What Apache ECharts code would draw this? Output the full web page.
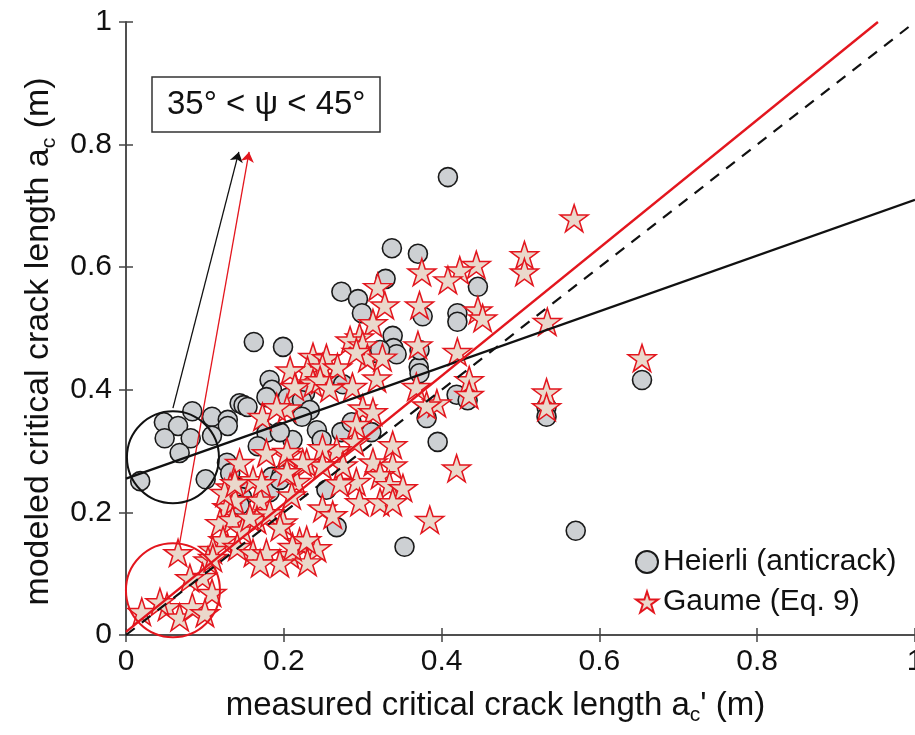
<!DOCTYPE html>
<html>
<head>
<meta charset="utf-8">
<script src="https://cdn.jsdelivr.net/npm/echarts@6/dist/echarts.min.js"></script>
<style>
  html, body { margin: 0; padding: 0; background: #fff; }
  #chart { width: 915px; height: 735px; }
</style>
</head>
<body>
<div id="chart"></div>
<script>
// measured a_c' (x) vs modeled a_c (y)
const heierliPoints = [
  [0.408, 0.747], [0.337, 0.631], [0.370, 0.622], [0.446, 0.568], [0.273, 0.560],
  [0.329, 0.581], [0.294, 0.548], [0.299, 0.525], [0.420, 0.525], [0.420, 0.511],
  [0.376, 0.520], [0.162, 0.478], [0.199, 0.470], [0.338, 0.488], [0.339, 0.468],
  [0.343, 0.458], [0.318, 0.460], [0.182, 0.416], [0.185, 0.400], [0.178, 0.388],
  [0.144, 0.378], [0.149, 0.375], [0.154, 0.372], [0.084, 0.365], [0.109, 0.356],
  [0.129, 0.351], [0.129, 0.341], [0.048, 0.347], [0.066, 0.341], [0.049, 0.321],
  [0.082, 0.321], [0.109, 0.325], [0.068, 0.297], [0.018, 0.251], [0.101, 0.254],
  [0.178, 0.330], [0.167, 0.308], [0.128, 0.281], [0.132, 0.264], [0.144, 0.240],
  [0.147, 0.225], [0.144, 0.212], [0.185, 0.258], [0.182, 0.233], [0.265, 0.413],
  [0.275, 0.409], [0.227, 0.395], [0.205, 0.387], [0.223, 0.383], [0.233, 0.367],
  [0.223, 0.356], [0.211, 0.318], [0.242, 0.334], [0.273, 0.331], [0.311, 0.331],
  [0.286, 0.347], [0.371, 0.437], [0.372, 0.427], [0.381, 0.354], [0.395, 0.315],
  [0.419, 0.392], [0.433, 0.383], [0.197, 0.261], [0.254, 0.237], [0.267, 0.176],
  [0.353, 0.144], [0.533, 0.372], [0.533, 0.356], [0.570, 0.170], [0.654, 0.416],
  [0.248, 0.318], [0.322, 0.465], [0.372, 0.465], [0.195, 0.331], [0.195, 0.253]
];

const gaumePoints = [
  [0.568, 0.680], [0.505, 0.620], [0.505, 0.592], [0.534, 0.511], [0.654, 0.452],
  [0.533, 0.396], [0.533, 0.372], [0.435, 0.416], [0.435, 0.392], [0.394, 0.378],
  [0.420, 0.462], [0.370, 0.473], [0.446, 0.530], [0.452, 0.517], [0.372, 0.538],
  [0.444, 0.604], [0.423, 0.595], [0.408, 0.579], [0.375, 0.592], [0.381, 0.375],
  [0.419, 0.272], [0.385, 0.188],
  [0.319, 0.568], [0.328, 0.538], [0.313, 0.509], [0.296, 0.486], [0.284, 0.481],
  [0.300, 0.473], [0.237, 0.454], [0.230, 0.432], [0.208, 0.432], [0.254, 0.452],
  [0.249, 0.437], [0.268, 0.437], [0.306, 0.452], [0.292, 0.462], [0.318, 0.419],
  [0.325, 0.453], [0.287, 0.405], [0.237, 0.411], [0.214, 0.405], [0.368, 0.405],
  [0.204, 0.370], [0.300, 0.370], [0.313, 0.364], [0.292, 0.343], [0.290, 0.315],
  [0.267, 0.302], [0.249, 0.305], [0.229, 0.281], [0.204, 0.294], [0.338, 0.310],
  [0.338, 0.277], [0.313, 0.282], [0.322, 0.261], [0.292, 0.250], [0.271, 0.248],
  [0.334, 0.245], [0.351, 0.240], [0.296, 0.217], [0.322, 0.217], [0.338, 0.217],
  [0.249, 0.207], [0.262, 0.196], [0.216, 0.250], [0.210, 0.228], [0.199, 0.184],
  [0.220, 0.152], [0.242, 0.142], [0.208, 0.131], [0.230, 0.119], [0.275, 0.277],
  [0.249, 0.277],
  [0.173, 0.356], [0.191, 0.372], [0.178, 0.297], [0.204, 0.299], [0.246, 0.416],
  [0.258, 0.403], [0.224, 0.281], [0.204, 0.266], [0.144, 0.281], [0.161, 0.253],
  [0.170, 0.220], [0.132, 0.241], [0.128, 0.209], [0.138, 0.220], [0.119, 0.183],
  [0.135, 0.188], [0.148, 0.171], [0.166, 0.188], [0.182, 0.199], [0.195, 0.176],
  [0.123, 0.155], [0.141, 0.144], [0.161, 0.134], [0.178, 0.134], [0.195, 0.117],
  [0.170, 0.117], [0.211, 0.144], [0.229, 0.155], [0.110, 0.139], [0.104, 0.122],
  [0.097, 0.095], [0.125, 0.232], [0.138, 0.248], [0.172, 0.248], [0.157, 0.192],
  [0.066, 0.134], [0.081, 0.093], [0.110, 0.126], [0.109, 0.069], [0.020, 0.038],
  [0.052, 0.046], [0.068, 0.029], [0.084, 0.046], [0.100, 0.036], [0.043, 0.054]
];

// regression lines and 1:1 reference
const fitHeierli = [[0, 0.255], [1, 0.71]];
const fitGaume = [[0, 0.005], [0.953, 1]];
const oneToOne = [[0, 0], [1, 1]];

// highlighted low-slope subsets and arrows to the label box
const markCircleBlack = [[0.0595, 0.290]];
const markCircleRed = [[0.0595, 0.073]];
const arrowBlack = [[0.0595, 0.370], [0.143, 0.788]];
const arrowRed = [[0.068, 0.150], [0.156, 0.788]];

const xTicks = { min: 0, max: 1, interval: 0.2 };
const yTicks = { min: 0, max: 1, interval: 0.2 };

const FONT = '"Liberation Sans", Arial, Helvetica, sans-serif';
const STAR = 'path://M50 0 L61.23 34.55 L97.55 34.55 L68.17 55.9 L79.39 90.45 L50 69.1 L20.61 90.45 L31.83 55.9 L2.45 34.55 L38.77 34.55 Z';

const axisLineStyle = { color: '#444', width: 1.5 };
const tickStyle = { show: true, inside: true, length: 7, lineStyle: { color: '#444', width: 1.5 } };
const subStyle = { fontFamily: FONT, fontSize: 21, color: '#111', padding: [20, 0, 0, 0] };

const chart = echarts.init(document.getElementById('chart'), null, { renderer: 'canvas' });

const option = {
  animation: false,
  backgroundColor: '#fff',
  textStyle: { fontFamily: FONT },
  grid: { left: 126, top: 22, width: 789, height: 613, containLabel: false, outerBoundsMode: 'none' },
  title: {
    text: '35° < ψ < 45°',
    left: 152, top: 77,
    padding: [11, 15],
    borderColor: '#333', borderWidth: 1.5,
    textStyle: { fontFamily: FONT, fontSize: 33, fontWeight: 'normal', color: '#111' }
  },
  legend: {
    orient: 'vertical',
    left: 630, top: 542,
    itemWidth: 22, itemHeight: 22,
    itemGap: 10, itemTextGap: 20,
    textStyle: { fontFamily: FONT, fontSize: 30, color: '#111' },
    data: ['Heierli (anticrack)', 'Gaume (Eq. 9)']
  },
  xAxis: [
    {
      type: 'value', ...xTicks,
      name: 'measured critical crack length a{sub|c}\' (m)',
      nameLocation: 'middle', nameGap: 50,
      nameTextStyle: {
        fontFamily: FONT, fontSize: 33, color: '#111',
        padding: [0, 50, 0, 0],
        rich: { sub: subStyle }
      },
      axisLine: { show: true, lineStyle: axisLineStyle },
      axisTick: tickStyle,
      axisLabel: { fontFamily: FONT, fontSize: 30, color: '#111', margin: 12 },
      splitLine: { show: false }
    },
    {
      type: 'value', ...xTicks, position: 'top',
      axisLine: { show: true, lineStyle: axisLineStyle },
      axisTick: tickStyle,
      axisLabel: { show: false },
      splitLine: { show: false }
    }
  ],
  yAxis: [
    {
      type: 'value', ...yTicks,
      name: 'modeled critical crack length a{sub|c} (m)',
      nameLocation: 'middle', nameGap: 66, nameRotate: 90,
      nameTextStyle: {
        fontFamily: FONT, fontSize: 34, color: '#111',
        padding: [0, 26, 0, 0],
        rich: { sub: subStyle }
      },
      axisLine: { show: true, lineStyle: axisLineStyle },
      axisTick: tickStyle,
      axisLabel: { fontFamily: FONT, fontSize: 30, color: '#111', margin: 14 },
      splitLine: { show: false }
    },
    {
      type: 'value', ...yTicks, position: 'right',
      axisLine: { show: true, lineStyle: axisLineStyle },
      axisTick: tickStyle,
      axisLabel: { show: false },
      splitLine: { show: false }
    }
  ],
  series: [
    {
      name: 'Heierli (anticrack)',
      type: 'scatter',
      data: heierliPoints,
      symbol: 'circle',
      symbolSize: 19,
      itemStyle: { color: '#cdd0d3', borderColor: '#1a1a1a', borderWidth: 1.6, opacity: 1 },
      z: 3
    },
    {
      name: 'Gaume (Eq. 9)',
      type: 'scatter',
      data: gaumePoints,
      symbol: STAR,
      symbolSize: [28, 27],
      itemStyle: { color: '#ead8cb', borderColor: '#e3161e', borderWidth: 1.5, opacity: 1 },
      z: 4
    },
    {
      type: 'scatter',
      data: markCircleBlack,
      symbol: 'circle',
      symbolSize: 92,
      silent: true,
      itemStyle: { color: 'rgba(0,0,0,0)', borderColor: '#111', borderWidth: 2, opacity: 1 },
      z: 5
    },
    {
      type: 'scatter',
      data: markCircleRed,
      symbol: 'circle',
      symbolSize: 94,
      silent: true,
      itemStyle: { color: 'rgba(0,0,0,0)', borderColor: '#e3161e', borderWidth: 2, opacity: 1 },
      z: 5
    },
    {
      type: 'line',
      data: oneToOne,
      symbol: 'none',
      lineStyle: { color: '#111', width: 2.2, type: [11, 9] },
      z: 6
    },
    {
      type: 'line',
      data: fitHeierli,
      symbol: 'none',
      lineStyle: { color: '#111', width: 2.4 },
      z: 6,
      markLine: {
        silent: true,
        symbol: ['none', 'arrow'],
        symbolSize: 10,
        label: { show: false },
        lineStyle: { color: '#111', width: 1.3, type: 'solid' },
        data: [[{ coord: arrowBlack[0] }, { coord: arrowBlack[1] }]]
      }
    },
    {
      type: 'line',
      data: fitGaume,
      symbol: 'none',
      lineStyle: { color: '#e3161e', width: 2.4 },
      z: 6,
      markLine: {
        silent: true,
        symbol: ['none', 'arrow'],
        symbolSize: 10,
        label: { show: false },
        lineStyle: { color: '#e3161e', width: 1.3, type: 'solid' },
        data: [[{ coord: arrowRed[0] }, { coord: arrowRed[1] }]]
      }
    }
  ]
};

chart.setOption(option);
window.addEventListener('resize', () => chart.resize());
</script>
</body>
</html>
